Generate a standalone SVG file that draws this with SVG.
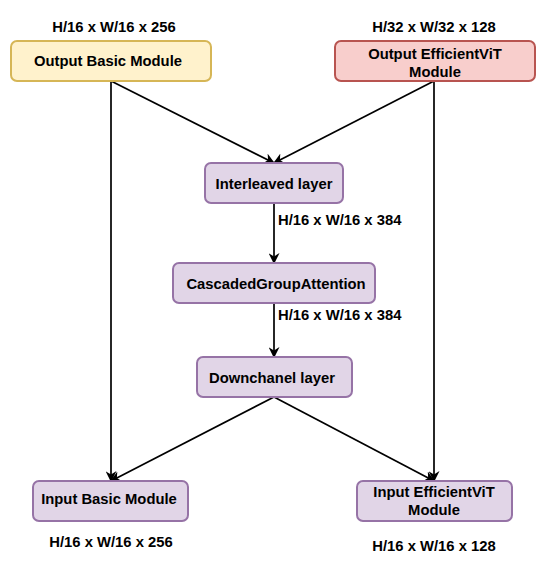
<svg xmlns="http://www.w3.org/2000/svg" width="547" height="565" viewBox="0 0 547 565">
<defs>
<style>
text{font-family:"Liberation Sans",Arial,sans-serif;font-weight:bold;font-size:14.8px;fill:#000;text-anchor:middle}
.lbl{text-anchor:start}
.box{stroke-width:2}
.y{fill:#fff2cc;stroke:#d6b656}
.r{fill:#f8cecc;stroke:#b85450}
.p{fill:#e1d5e7;stroke:#9673a6}
.c{fill:none;stroke:#000;stroke-width:1.7;marker-end:url(#ah)}
</style>
<marker id="ah" viewBox="0 0 10 10" refX="9" refY="5" markerWidth="11" markerHeight="11" markerUnits="userSpaceOnUse" orient="auto">
<path d="M0,0 L10,5 L0,10 L3,5 z" fill="#000"/>
</marker>
</defs>
<rect width="547" height="565" fill="#fff"/>
<g id="connectors">
<path class="c" d="M111,81 L111,481"/>
<path class="c" d="M434,81 L434,481"/>
<path class="c" d="M111,81 L274,163"/>
<path class="c" d="M434,81 L274,163"/>
<path class="c" d="M274,203 L274,263"/>
<path class="c" d="M274,303 L274,357"/>
<path class="c" d="M274,397 L111,481"/>
<path class="c" d="M274,397 L434,481"/>
<text class="lbl" x="278" y="225">H/16 x W/16 x 384</text>
<text class="lbl" x="278" y="320">H/16 x W/16 x 384</text>
</g>
<g id="output-basic">
<text x="114" y="32">H/16 x W/16 x 256</text>
<rect class="box y" x="11" y="41" width="200" height="40" rx="6"/>
<text x="108" y="66">Output Basic Module</text>
</g>
<g id="output-efficientvit">
<text x="434" y="32">H/32 x W/32 x 128</text>
<rect class="box r" x="335" y="41" width="200" height="40" rx="6"/>
<text x="435" y="59">Output EfficientViT</text>
<text x="435" y="77">Module</text>
</g>
<g id="interleaved">
<rect class="box p" x="205" y="163" width="138" height="40" rx="6"/>
<text x="274" y="189">Interleaved layer</text>
</g>
<g id="cascaded">
<rect class="box p" x="173" y="263" width="202" height="40" rx="6"/>
<text x="276" y="289">CascadedGroupAttention</text>
</g>
<g id="downchanel">
<rect class="box p" x="197" y="357" width="155" height="40" rx="6"/>
<text x="272" y="383">Downchanel layer</text>
</g>
<g id="input-basic">
<rect class="box p" x="33" y="481" width="155" height="40" rx="6"/>
<text x="109" y="504">Input Basic Module</text>
<text x="111" y="547">H/16 x W/16 x 256</text>
</g>
<g id="input-efficientvit">
<rect class="box p" x="357" y="481" width="155" height="40" rx="6"/>
<text x="434" y="497">Input EfficientViT</text>
<text x="434" y="515">Module</text>
<text x="434" y="551">H/16 x W/16 x 128</text>
</g>
</svg>
